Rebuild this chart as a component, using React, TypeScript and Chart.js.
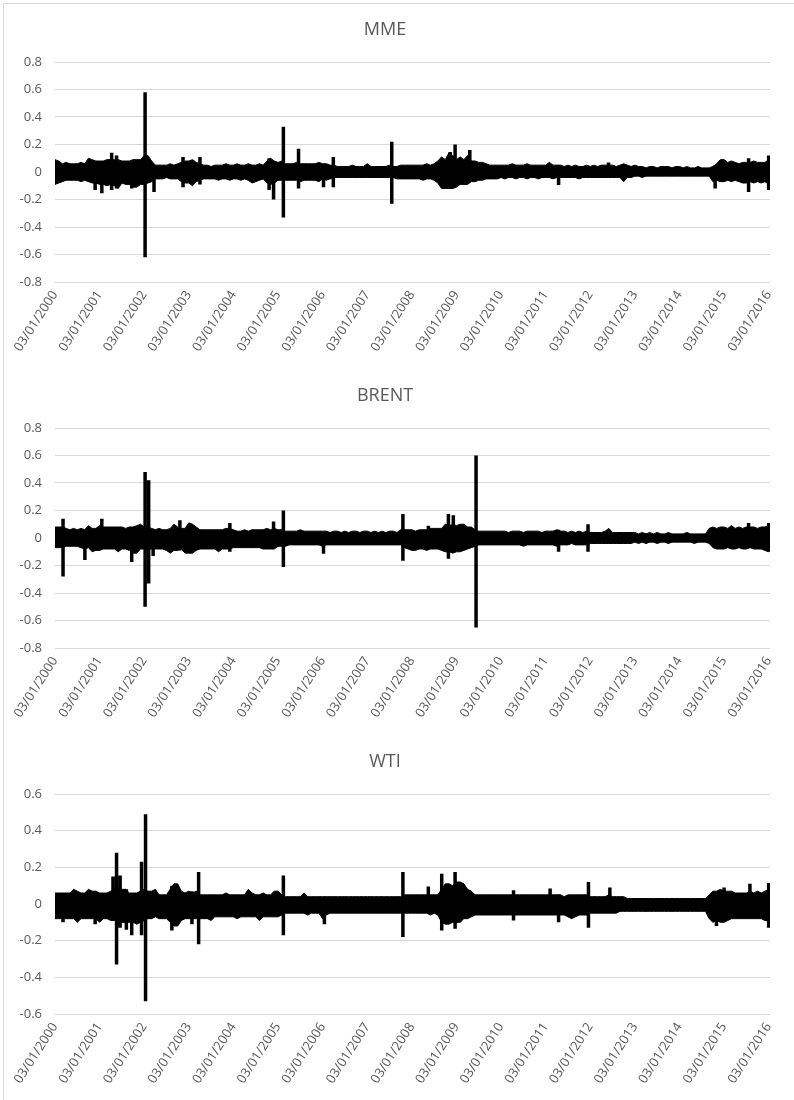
import React, { useEffect, useRef } from 'react';
import { Chart, registerables } from 'chart.js';

Chart.register(...registerables);

const FONT = '"Open Sans", "Liberation Sans", sans-serif';
const TEXT_COLOR = '#595959';
const GRID_COLOR = '#d9d9d9';

// first monthly sample = 03/01/2000, one sample per month
const START_YEAR = 2000;
const X_MAX = 2016.03;
const X_TICK_YEARS = [2000, 2001, 2002, 2003, 2004, 2005, 2006, 2007, 2008, 2009, 2010, 2011, 2012, 2013, 2014, 2015, 2016];
const X_TICK_LABELS = [
  '03/01/2000', '03/01/2001', '03/01/2002', '03/01/2003', '03/01/2004', '03/01/2005',
  '03/01/2006', '03/01/2007', '03/01/2008', '03/01/2009', '03/01/2010', '03/01/2011',
  '03/01/2012', '03/01/2013', '03/01/2014', '03/01/2015', '03/01/2016',
];
const Y_TICKS_08 = [-0.8, -0.6, -0.4, -0.2, 0, 0.2, 0.4, 0.6, 0.8];
const Y_TICKS_06 = [-0.6, -0.4, -0.2, 0, 0.2, 0.4, 0.6];

// ---- MME: monthly upper / lower envelope of daily returns (in %) ----
const mmeUpper = [
  9, 8, 6, 7, 6, 6, 6, 7, 6, 10, 9, 8,
  8, 8, 9, 9, 9, 9, 8, 8, 8, 9, 9, 9,
  12, 12, 8, 5, 5, 5, 5, 6, 5, 6, 7, 8,
  8, 9, 7, 6, 5, 5, 4, 5, 5, 5, 6, 5,
  5, 6, 5, 5, 6, 5, 5, 6, 5, 8, 10, 8,
  7, 8, 6, 6, 6, 7, 6, 6, 6, 6, 6, 7,
  6, 6, 5, 5, 4, 4, 4, 4, 5, 4, 4, 4,
  6, 4, 4, 4, 4, 4, 5, 4, 4, 5, 5, 5,
  5, 5, 5, 5, 6, 5, 6, 8, 11, 9, 14, 12,
  9, 11, 9, 12, 8, 8, 7, 7, 6, 5, 5, 5,
  5, 5, 5, 6, 5, 5, 5, 6, 5, 5, 5, 5,
  5, 7, 5, 5, 5, 4, 5, 4, 5, 4, 4, 5,
  4, 5, 4, 5, 5, 5, 5, 4, 5, 6, 5, 4,
  5, 4, 4, 3, 4, 4, 3, 4, 4, 4, 3, 4,
  4, 3, 4, 3, 3, 4, 3, 3, 3, 4, 6, 9,
  9, 7, 8, 7, 6, 7, 7, 7, 8, 7, 7, 7,
  9,
];
const mmeLower = [
  -9, -8, -7, -6, -6, -6, -6, -7, -6, -7, -8, -8,
  -9, -9, -10, -9, -10, -12, -8, -9, -9, -11, -11, -9,
  -9, -8, -7, -5, -5, -5, -4, -5, -5, -5, -7, -8,
  -8, -10, -7, -6, -5, -5, -5, -5, -6, -5, -5, -6,
  -5, -5, -6, -5, -6, -8, -7, -6, -5, -8, -9, -8,
  -6, -6, -6, -6, -6, -6, -7, -6, -6, -6, -6, -7,
  -5, -6, -5, -4, -4, -4, -4, -4, -4, -4, -4, -4,
  -4, -4, -4, -4, -4, -4, -4, -4, -5, -5, -5, -5,
  -5, -5, -5, -6, -5, -5, -6, -8, -12, -12, -12, -12,
  -11, -9, -9, -9, -7, -7, -6, -6, -5, -5, -5, -5,
  -4, -5, -4, -4, -5, -4, -4, -5, -4, -4, -5, -4,
  -4, -4, -5, -4, -4, -4, -4, -4, -4, -5, -4, -4,
  -4, -4, -4, -4, -4, -4, -4, -4, -4, -7, -4, -4,
  -3, -3, -4, -3, -3, -3, -3, -3, -3, -3, -3, -3,
  -3, -3, -3, -3, -3, -3, -3, -3, -3, -7, -6, -7,
  -7, -6, -7, -6, -7, -8, -8, -7, -8, -7, -8, -7,
  -9,
];
const mmeSpikeX = [2000.9, 2001.05, 2001.27, 2001.38, 2001.72, 2002.02, 2002.22, 2002.87, 2003.25, 2004.8, 2004.9, 2005.12, 2005.46, 2006.02, 2006.24, 2007.55, 2008.86, 2008.97, 2009.3, 2011.29, 2012.41, 2014.8, 2015.55, 2016.0];
const mmeSpikeHigh = [0.06, 0.07, 0.14, 0.12, 0.08, 0.58, 0.05, 0.11, 0.11, 0.1, 0.05, 0.33, 0.17, 0.06, 0.11, 0.22, 0.145, 0.2, 0.16, 0.05, 0.07, 0.05, 0.1, 0.12];
const mmeSpikeLow = [-0.13, -0.155, -0.13, -0.12, -0.12, -0.62, -0.145, -0.11, -0.09, -0.13, -0.2, -0.33, -0.12, -0.11, -0.11, -0.23, -0.05, -0.1, -0.05, -0.095, -0.03, -0.12, -0.145, -0.13];

// ---- BRENT ----
const brentUpper = [
  8, 8, 8, 7, 6, 7, 6, 7, 6, 9, 7, 7,
  9, 8, 8, 8, 8, 8, 8, 7, 8, 8, 9, 10,
  8, 8, 7, 6, 7, 6, 6, 7, 10, 8, 7, 7,
  11, 10, 8, 6, 6, 6, 6, 6, 6, 6, 7, 7,
  6, 5, 5, 6, 5, 6, 6, 6, 6, 7, 6, 7,
  6, 6, 5, 5, 5, 5, 6, 5, 5, 5, 5, 5,
  5, 5, 4, 5, 5, 4, 5, 4, 5, 5, 4, 5,
  5, 4, 5, 4, 5, 4, 5, 5, 4, 6, 6, 6,
  6, 5, 6, 6, 6, 7, 7, 7, 7, 10, 9, 10,
  9, 10, 10, 8, 8, 6, 5, 5, 5, 5, 5, 5,
  5, 5, 4, 5, 5, 5, 4, 5, 5, 5, 5, 4,
  5, 5, 5, 6, 5, 5, 4, 5, 4, 5, 4, 5,
  4, 4, 4, 4, 5, 7, 4, 4, 4, 4, 4, 4,
  4, 3, 4, 3, 4, 3, 4, 3, 3, 4, 3, 3,
  3, 3, 4, 3, 3, 3, 3, 3, 7, 8, 7, 8,
  8, 7, 9, 7, 8, 7, 8, 8, 8, 7, 8, 8,
  9,
];
const brentLower = [
  -7, -7, -7, -6, -6, -6, -6, -7, -8, -7, -10, -9,
  -9, -8, -8, -8, -8, -10, -8, -8, -9, -11, -11, -8,
  -8, -8, -8, -8, -8, -8, -9, -11, -9, -9, -8, -11,
  -11, -11, -9, -8, -8, -8, -8, -8, -10, -8, -8, -8,
  -7, -7, -7, -7, -7, -7, -7, -7, -8, -8, -8, -8,
  -6, -6, -6, -5, -5, -5, -5, -5, -5, -5, -5, -5,
  -6, -5, -5, -5, -5, -5, -5, -5, -5, -5, -5, -5,
  -5, -5, -5, -5, -5, -5, -5, -5, -5, -5, -7, -8,
  -9, -9, -8, -8, -9, -8, -8, -8, -9, -10, -10, -11,
  -10, -10, -9, -8, -7, -6, -5, -5, -5, -5, -5, -5,
  -5, -5, -5, -5, -5, -5, -6, -5, -5, -5, -5, -5,
  -5, -5, -5, -6, -5, -5, -5, -4, -5, -5, -5, -5,
  -4, -4, -4, -4, -4, -4, -4, -4, -4, -4, -4, -4,
  -3, -4, -3, -4, -3, -3, -4, -3, -3, -4, -3, -3,
  -3, -3, -3, -3, -4, -3, -3, -3, -4, -7, -8, -8,
  -8, -7, -8, -8, -7, -8, -8, -7, -8, -8, -8, -9,
  -10,
];
const brentSpikeX = [2000.18, 2000.67, 2001.05, 2001.72, 2002.02, 2002.1, 2002.2, 2002.8, 2003.92, 2004.9, 2005.12, 2006.02, 2007.8, 2008.37, 2008.82, 2008.93, 2009.44, 2011.29, 2011.95, 2015.55, 2016.0];
const brentSpikeHigh = [0.14, 0.05, 0.14, 0.05, 0.48, 0.42, 0.06, 0.13, 0.11, 0.12, 0.2, 0.04, 0.175, 0.09, 0.175, 0.165, 0.6, 0.06, 0.1, 0.11, 0.11];
const brentSpikeLow = [-0.28, -0.16, -0.05, -0.175, -0.5, -0.33, -0.13, -0.09, -0.1, -0.07, -0.21, -0.115, -0.165, -0.08, -0.15, -0.06, -0.65, -0.1, -0.1, -0.07, -0.1];

// ---- WTI ----
const wtiUpper = [
  6, 6, 6, 6, 6, 8, 7, 6, 6, 8, 7, 7,
  6, 6, 6, 7, 9, 9, 8, 8, 6, 6, 6, 7,
  8, 7, 7, 8, 5, 5, 5, 8, 11, 11, 7, 6,
  7, 6, 7, 5, 5, 5, 5, 5, 5, 5, 6, 5,
  5, 5, 5, 5, 8, 6, 5, 5, 6, 5, 5, 7,
  7, 5, 4, 4, 4, 4, 4, 6, 4, 4, 4, 4,
  4, 4, 4, 4, 4, 4, 4, 4, 4, 4, 4, 4,
  4, 4, 4, 4, 4, 4, 4, 4, 4, 4, 5, 5,
  5, 5, 5, 5, 5, 5, 5, 5, 8, 11, 11, 10,
  12, 12, 11, 8, 7, 5, 5, 5, 5, 5, 5, 5,
  5, 5, 5, 5, 5, 5, 5, 5, 5, 5, 5, 5,
  5, 5, 5, 5, 5, 4, 5, 5, 5, 5, 5, 5,
  4, 4, 4, 4, 4, 5, 4, 4, 4, 4, 3, 3,
  3, 3, 3, 3, 3, 3, 3, 3, 3, 3, 3, 3,
  3, 3, 3, 3, 3, 3, 3, 3, 5, 7, 7, 8,
  7, 7, 7, 6, 6, 6, 6, 7, 6, 7, 6, 7,
  8,
];
const wtiLower = [
  -8, -8, -8, -8, -8, -8, -10, -8, -8, -8, -8, -8,
  -10, -8, -8, -9, -9, -11, -10, -10, -10, -10, -11, -10,
  -9, -8, -8, -7, -8, -8, -8, -10, -12, -12, -9, -8,
  -8, -8, -8, -8, -8, -8, -9, -7, -7, -7, -7, -7,
  -7, -8, -7, -7, -7, -7, -7, -9, -7, -7, -7, -7,
  -7, -6, -5, -5, -5, -5, -5, -5, -6, -5, -5, -5,
  -8, -6, -5, -5, -5, -5, -5, -5, -5, -5, -5, -5,
  -5, -5, -5, -5, -5, -5, -5, -5, -5, -5, -5, -5,
  -5, -5, -5, -5, -5, -6, -5, -6, -10, -11, -11, -10,
  -10, -10, -8, -8, -7, -6, -6, -6, -6, -6, -6, -6,
  -6, -6, -6, -6, -6, -6, -6, -6, -6, -6, -6, -6,
  -6, -6, -6, -6, -6, -6, -7, -8, -7, -6, -6, -6,
  -5, -5, -5, -5, -5, -5, -5, -5, -4, -4, -4, -4,
  -4, -4, -4, -4, -4, -4, -4, -4, -4, -4, -4, -4,
  -4, -4, -4, -4, -4, -4, -4, -4, -8, -10, -9, -10,
  -10, -9, -8, -8, -8, -8, -8, -8, -8, -8, -8, -9,
  -9,
];
const wtiSpikeX = [2000.18, 2000.9, 2001.3, 2001.38, 2001.46, 2001.6, 2001.72, 2001.94, 2002.03, 2002.62, 2003.07, 2003.22, 2005.12, 2006.04, 2007.8, 2008.37, 2008.67, 2008.97, 2010.28, 2011.1, 2011.29, 2011.96, 2012.44, 2014.83, 2015.0, 2015.58, 2016.0];
const wtiSpikeHigh = [0.06, 0.07, 0.15, 0.28, 0.155, 0.08, 0.06, 0.23, 0.49, 0.1, 0.07, 0.175, 0.155, 0.04, 0.175, 0.095, 0.165, 0.175, 0.075, 0.085, 0.05, 0.12, 0.09, 0.05, 0.09, 0.11, 0.115];
const wtiSpikeLow = [-0.1, -0.11, -0.05, -0.33, -0.13, -0.14, -0.17, -0.17, -0.53, -0.145, -0.11, -0.22, -0.17, -0.11, -0.18, -0.05, -0.145, -0.135, -0.09, -0.05, -0.1, -0.13, -0.04, -0.12, -0.08, -0.06, -0.13];

const CANVAS_W = 794;
const CANVAS_H = 366;
const CHART_PITCH = 366;

type Panel = {
  title: string;
  upper: number[];
  lower: number[];
  spikeX: number[];
  spikeHigh: number[];
  spikeLow: number[];
  yTicks: number[];
};

const PANELS: Panel[] = [
  { title: 'MME', upper: mmeUpper, lower: mmeLower, spikeX: mmeSpikeX, spikeHigh: mmeSpikeHigh, spikeLow: mmeSpikeLow, yTicks: Y_TICKS_08 },
  { title: 'BRENT', upper: brentUpper, lower: brentLower, spikeX: brentSpikeX, spikeHigh: brentSpikeHigh, spikeLow: brentSpikeLow, yTicks: Y_TICKS_08 },
  { title: 'WTI', upper: wtiUpper, lower: wtiLower, spikeX: wtiSpikeX, spikeHigh: wtiSpikeHigh, spikeLow: wtiSpikeLow, yTicks: Y_TICKS_06 },
];

function formatY(v: number): string {
  if (Math.abs(v) < 1e-9) return '0';
  return v.toFixed(1);
}

function buildConfig(p: Panel): any {
  const monthX = (i: number) => START_YEAR + i / 12;
  const upperPts = p.upper.map((v, i) => ({ x: monthX(i), y: v / 100 }));
  const lowerPts = p.lower.map((v, i) => ({ x: monthX(i), y: v / 100 }));
  const spikePts: { x: number; y: number | null }[] = [];
  p.spikeX.forEach((x, i) => {
    spikePts.push({ x, y: p.spikeHigh[i] }, { x, y: p.spikeLow[i] }, { x, y: null });
  });
  const tickFont = { family: FONT, size: 13 };
  return {
    type: 'line',
    data: {
      datasets: [
        { data: upperPts, borderColor: '#000', borderWidth: 1, pointRadius: 0, fill: false, tension: 0, borderJoinStyle: 'round' },
        { data: lowerPts, borderColor: '#000', borderWidth: 1, pointRadius: 0, fill: '-1', backgroundColor: '#000', tension: 0, borderJoinStyle: 'round' },
        { data: spikePts, borderColor: '#000', borderWidth: 3.5, pointRadius: 0, fill: false, spanGaps: false, borderCapStyle: 'butt' },
      ],
    },
    options: {
      responsive: false,
      animation: false,
      events: [],
      layout: { padding: { top: 0, right: 24, bottom: 0, left: 0 } },
      plugins: {
        legend: { display: false },
        tooltip: { enabled: false },
        title: {
          display: true,
          text: p.title,
          color: TEXT_COLOR,
          font: { family: FONT, size: 18, weight: 'normal' },
          padding: { top: 16, bottom: 21.4 },
        },
      },
      scales: {
        x: {
          type: 'linear',
          min: START_YEAR,
          max: X_MAX,
          grid: { display: false, drawTicks: false },
          border: { display: false },
          afterBuildTicks: (s: any) => {
            s.ticks = X_TICK_YEARS.map((v) => ({ value: v }));
          },
          afterFit: (s: any) => {
            s.height = CANVAS_H - 279;
          },
          ticks: {
            autoSkip: false,
            minRotation: 57,
            maxRotation: 57,
            padding: 6,
            color: TEXT_COLOR,
            font: tickFont,
            callback: (v: any) => {
              const idx = X_TICK_YEARS.indexOf(Math.round(Number(v)));
              return idx >= 0 ? X_TICK_LABELS[idx] : '';
            },
          },
        },
        y: {
          type: 'linear',
          min: p.yTicks[0],
          max: p.yTicks[p.yTicks.length - 1],
          grid: { color: GRID_COLOR, lineWidth: 1, drawTicks: false },
          border: { display: false },
          afterBuildTicks: (s: any) => {
            s.ticks = p.yTicks.map((v) => ({ value: v }));
          },
          afterFit: (s: any) => {
            s.width = 55;
          },
          ticks: {
            padding: 13,
            color: TEXT_COLOR,
            font: tickFont,
            callback: (v: any) => formatY(Number(v)),
          },
        },
      },
    },
  };
}

function PanelChart({ panel, top }: { panel: Panel; top: number }) {
  const ref = useRef<HTMLCanvasElement | null>(null);
  useEffect(() => {
    if (!ref.current) return;
    const chart = new Chart(ref.current, buildConfig(panel));
    return () => chart.destroy();
  }, [panel]);
  return (
    <canvas
      ref={ref}
      width={CANVAS_W}
      height={CANVAS_H}
      style={{ position: 'absolute', left: 0, top, width: CANVAS_W, height: CANVAS_H }}
    />
  );
}

export default function App() {
  return (
    <div
      style={{
        position: 'absolute',
        left: 0,
        top: 0,
        width: 794,
        height: 1100,
        overflow: 'hidden',
        background: '#ffffff',
      }}
    >
      <div
        style={{
          position: 'absolute',
          left: 3,
          top: 3,
          width: 900,
          height: 1200,
          borderLeft: '1px solid #d9d9d9',
          borderTop: '1px solid #d9d9d9',
        }}
      />
      {PANELS.map((p, i) => (
        <PanelChart key={p.title} panel={p} top={3 + i * CHART_PITCH} />
      ))}
    </div>
  );
}
